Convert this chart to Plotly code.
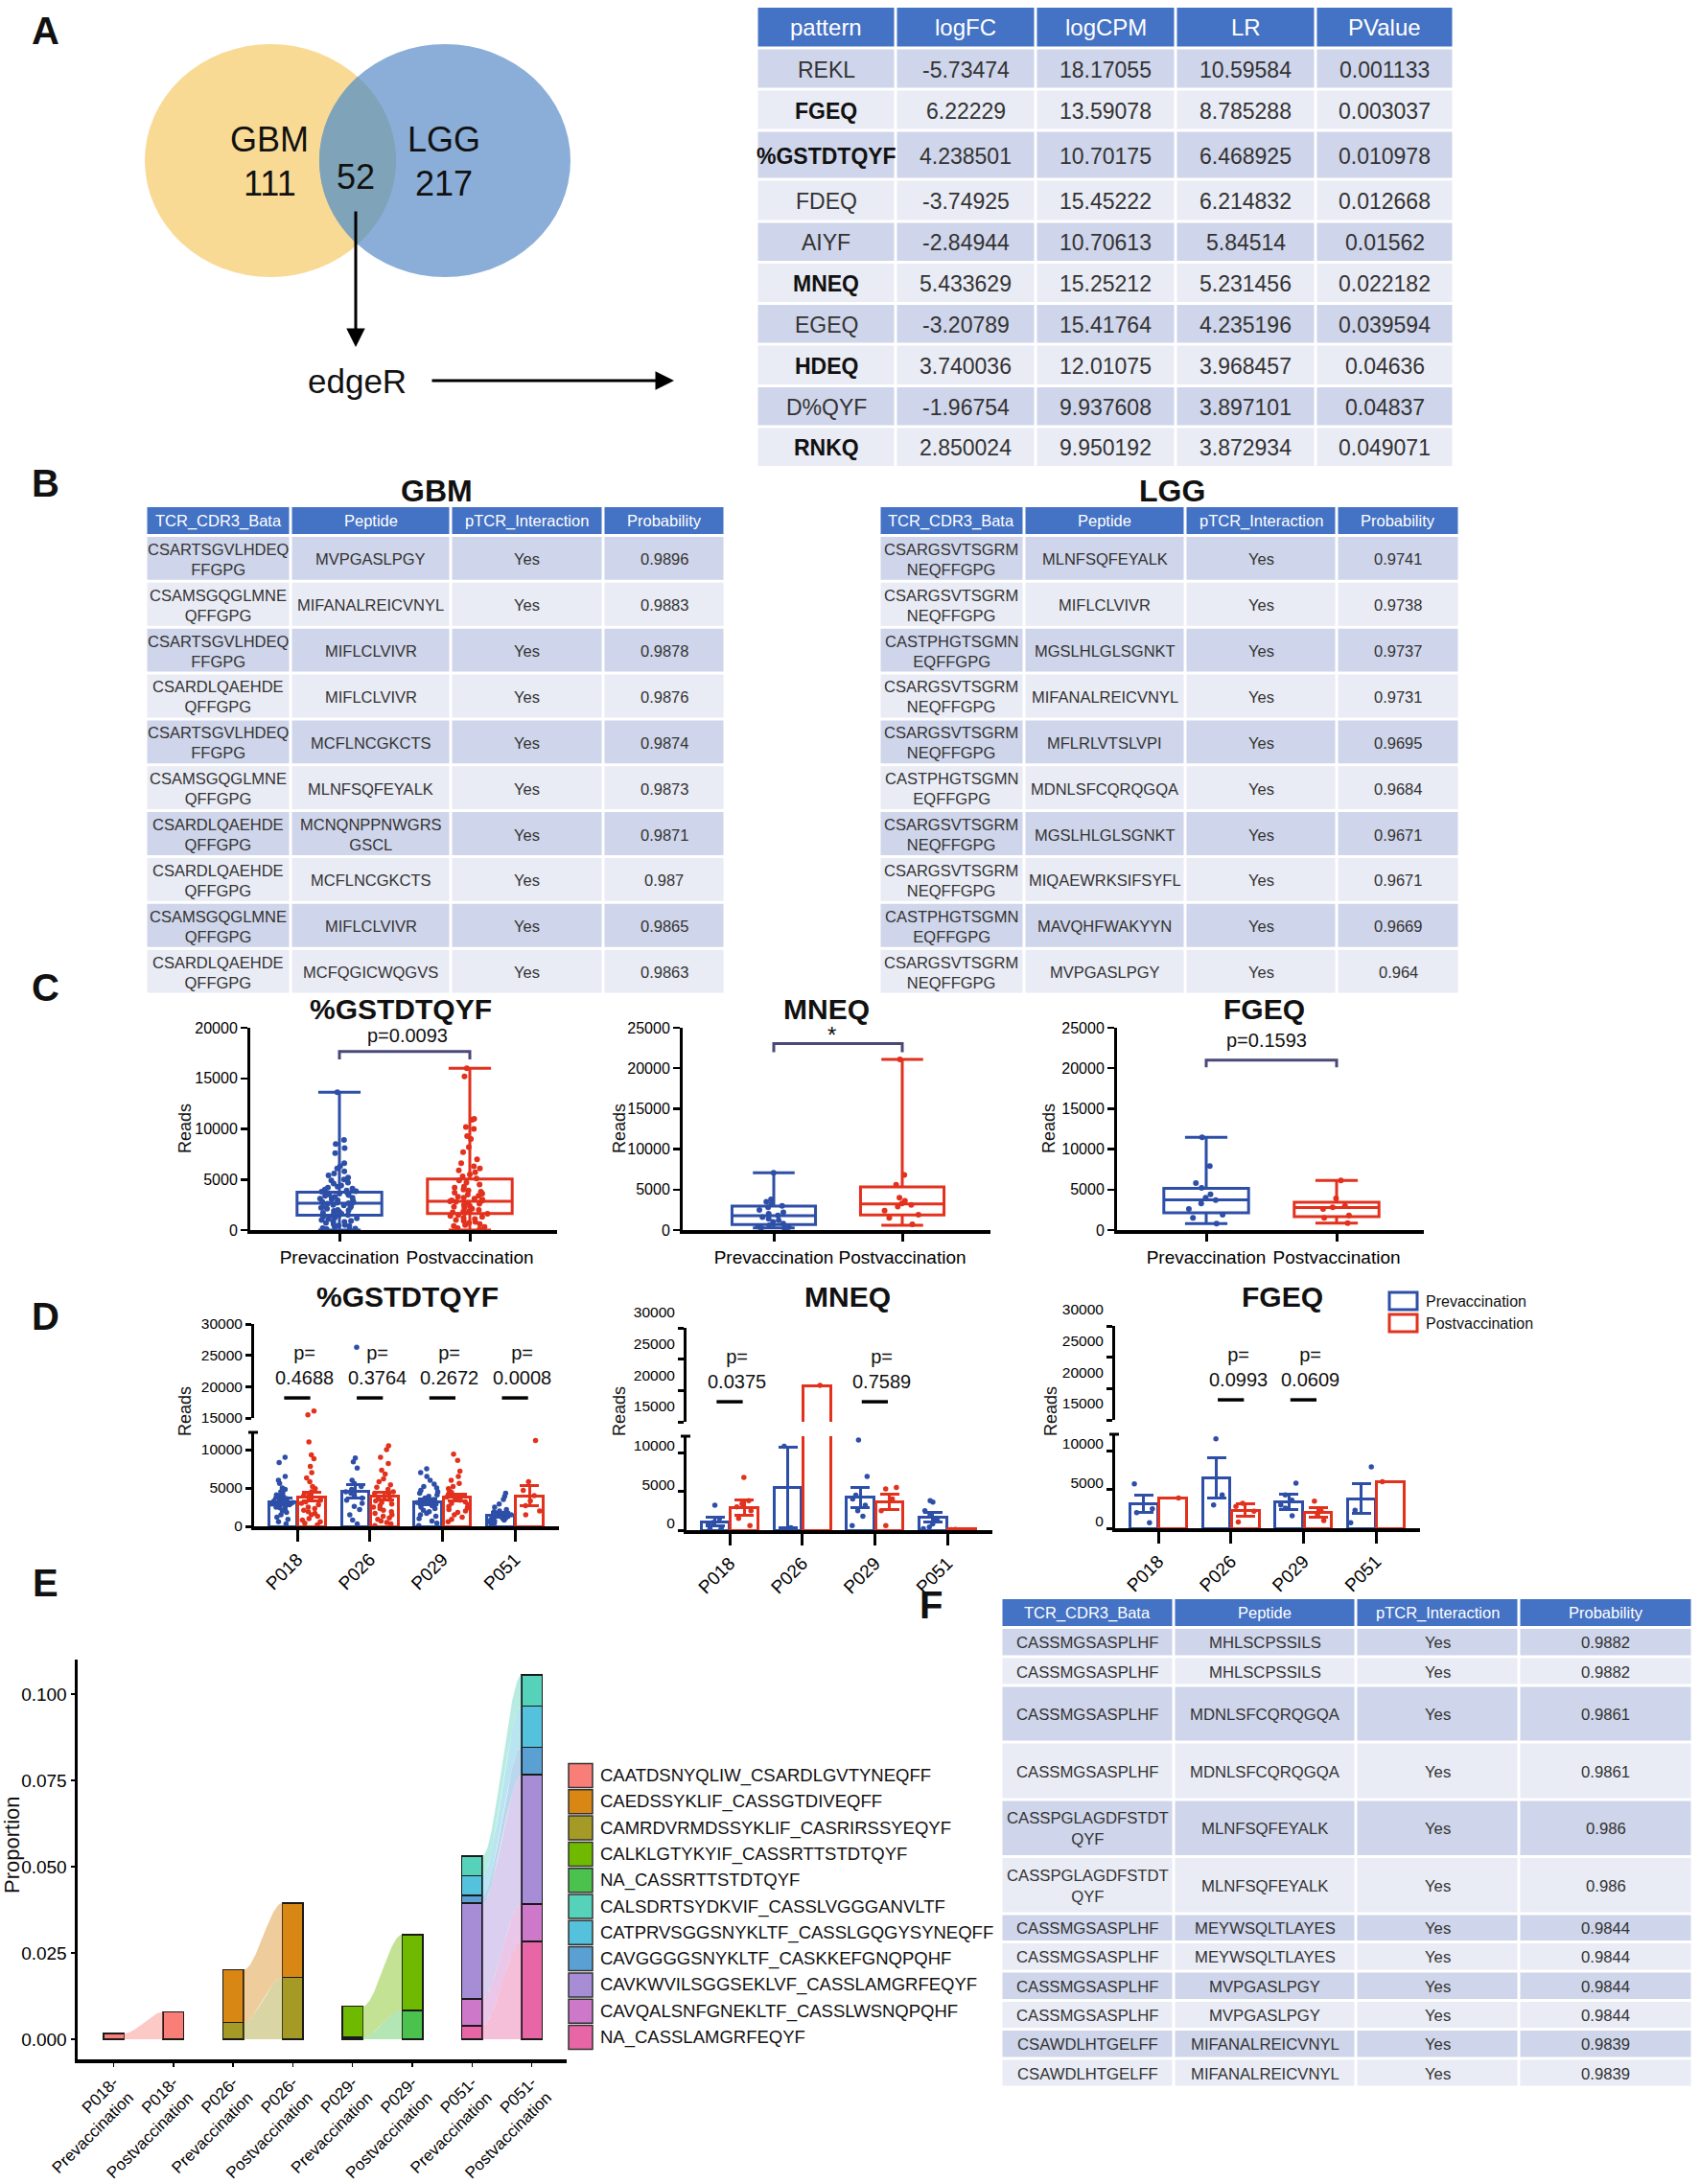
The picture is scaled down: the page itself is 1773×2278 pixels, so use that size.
import numpy as np
import plotly.graph_objects as go

W, H = 1773, 2278
FONT = "Liberation Sans, Arial, Helvetica, sans-serif"
BLUE = "#2E4FA7"
RED = "#E2311D"
INK = "#111111"
CELL = "#333333"
HEAD = "#4472C4"
ROW1 = "#CFD5EA"
ROW2 = "#E9EBF5"
BRK = "#4B4878"

# ======================= DATA =======================
venn_sets = ["GBM", "LGG"]
venn_counts = [111, 52, 217]          # GBM only, shared, LGG only
venn_method = "edgeR"

A_header = ["pattern", "logFC", "logCPM", "LR", "PValue"]
A_pattern = ["REKL", "FGEQ", "%GSTDTQYF", "FDEQ", "AIYF", "MNEQ", "EGEQ", "HDEQ", "D%QYF", "RNKQ"]
A_pattern_bold = [False, True, True, False, False, True, False, True, False, True]
A_logFC = ["-5.73474", "6.22229", "4.238501", "-3.74925", "-2.84944", "5.433629", "-3.20789", "3.740036", "-1.96754", "2.850024"]
A_logCPM = ["18.17055", "13.59078", "10.70175", "15.45222", "10.70613", "15.25212", "15.41764", "12.01075", "9.937608", "9.950192"]
A_LR = ["10.59584", "8.785288", "6.468925", "6.214832", "5.84514", "5.231456", "4.235196", "3.968457", "3.897101", "3.872934"]
A_PValue = ["0.001133", "0.003037", "0.010978", "0.012668", "0.01562", "0.022182", "0.039594", "0.04636", "0.04837", "0.049071"]

B_header = ["TCR_CDR3_Bata", "Peptide", "pTCR_Interaction", "Probability"]
GBM_tcr = ["CSARTSGVLHDEQ<br>FFGPG", "CSAMSGQGLMNE<br>QFFGPG", "CSARTSGVLHDEQ<br>FFGPG", "CSARDLQAEHDE<br>QFFGPG",
           "CSARTSGVLHDEQ<br>FFGPG", "CSAMSGQGLMNE<br>QFFGPG", "CSARDLQAEHDE<br>QFFGPG", "CSARDLQAEHDE<br>QFFGPG",
           "CSAMSGQGLMNE<br>QFFGPG", "CSARDLQAEHDE<br>QFFGPG"]
GBM_peptide = ["MVPGASLPGY", "MIFANALREICVNYL", "MIFLCLVIVR", "MIFLCLVIVR", "MCFLNCGKCTS", "MLNFSQFEYALK",
               "MCNQNPPNWGRS<br>GSCL", "MCFLNCGKCTS", "MIFLCLVIVR", "MCFQGICWQGVS"]
GBM_interaction = ["Yes"] * 10
GBM_prob = ["0.9896", "0.9883", "0.9878", "0.9876", "0.9874", "0.9873", "0.9871", "0.987", "0.9865", "0.9863"]

LGG_tcr = ["CSARGSVTSGRM<br>NEQFFGPG", "CSARGSVTSGRM<br>NEQFFGPG", "CASTPHGTSGMN<br>EQFFGPG", "CSARGSVTSGRM<br>NEQFFGPG",
           "CSARGSVTSGRM<br>NEQFFGPG", "CASTPHGTSGMN<br>EQFFGPG", "CSARGSVTSGRM<br>NEQFFGPG", "CSARGSVTSGRM<br>NEQFFGPG",
           "CASTPHGTSGMN<br>EQFFGPG", "CSARGSVTSGRM<br>NEQFFGPG"]
LGG_peptide = ["MLNFSQFEYALK", "MIFLCLVIVR", "MGSLHLGLSGNKT", "MIFANALREICVNYL", "MFLRLVTSLVPI", "MDNLSFCQRQGQA",
               "MGSLHLGLSGNKT", "MIQAEWRKSIFSYFL", "MAVQHFWAKYYN", "MVPGASLPGY"]
LGG_interaction = ["Yes"] * 10
LGG_prob = ["0.9741", "0.9738", "0.9737", "0.9731", "0.9695", "0.9684", "0.9671", "0.9671", "0.9669", "0.964"]

F_tcr = ["CASSMGSASPLHF", "CASSMGSASPLHF", "CASSMGSASPLHF", "CASSMGSASPLHF", "CASSPGLAGDFSTDT<br>QYF",
         "CASSPGLAGDFSTDT<br>QYF", "CASSMGSASPLHF", "CASSMGSASPLHF", "CASSMGSASPLHF", "CASSMGSASPLHF",
         "CSAWDLHTGELFF", "CSAWDLHTGELFF"]
F_peptide = ["MHLSCPSSILS", "MHLSCPSSILS", "MDNLSFCQRQGQA", "MDNLSFCQRQGQA", "MLNFSQFEYALK", "MLNFSQFEYALK",
             "MEYWSQLTLAYES", "MEYWSQLTLAYES", "MVPGASLPGY", "MVPGASLPGY", "MIFANALREICVNYL", "MIFANALREICVNYL"]
F_interaction = ["Yes"] * 12
F_prob = ["0.9882", "0.9882", "0.9861", "0.9861", "0.986", "0.986", "0.9844", "0.9844", "0.9844", "0.9844", "0.9839", "0.9839"]

groups = ["Prevaccination", "Postvaccination"]
pep_titles = ["%GSTDTQYF", "MNEQ", "FGEQ"]
C_sig_labels = ["p=0.0093", "*", "p=0.1593"]
# box stats: lowerfence, q1, median, q3, upperfence
C_box_pre = [[0, 1480, 2650, 3750, 13630], [280, 670, 1780, 2970, 7080], [790, 2140, 3720, 5140, 11470]]
C_box_post = [[0, 1640, 2840, 5050, 16000], [590, 1860, 3240, 5340, 21100], [870, 1660, 2770, 3440, 6130]]
C_pts_pre = [
    [13630, 8900, 8500, 8100, 7600, 6600, 6300, 6100, 5800, 5600, 5400, 5200, 5000, 4900, 4700, 4600, 4400, 4300,
     4200, 4100, 4000, 3900, 3850, 3800, 3700, 3600, 3500, 3450, 3400, 3300, 3200, 3150, 3100, 3000, 2950, 2900,
     2800, 2750, 2700, 2650, 2600, 2500, 2450, 2400, 2300, 2250, 2200, 2100, 2000, 1950, 1900, 1800, 1700, 1650,
     1600, 1500, 1450, 1400, 1300, 1200, 1150, 1100, 1000, 900, 850, 800, 700, 600, 500, 450, 400, 300, 200, 150, 100, 50],
    [7080, 3800, 3500, 3200, 3000, 2800, 2500, 2200, 2000, 1800, 1600, 1400, 1200, 1000, 800, 600, 450, 350, 280, 200],
    [11470, 7900, 5800, 5200, 4400, 4000, 3700, 3300, 2600, 1900, 1500, 790],
]
C_pts_post = [
    [16000, 15200, 11000, 10900, 10200, 10000, 9300, 9000, 8200, 7700, 7000, 6600, 6300, 6100, 5900, 5700, 5500,
     5300, 5100, 4900, 4700, 4500, 4300, 4200, 4000, 3900, 3800, 3700, 3600, 3500, 3400, 3300, 3200, 3100, 3000,
     2950, 2900, 2850, 2800, 2700, 2600, 2500, 2400, 2300, 2200, 2100, 2000, 1900, 1800, 1750, 1700, 1600, 1500,
     1400, 1300, 1200, 1100, 1000, 900, 800, 700, 600, 500, 400, 300, 200, 100],
    [21100, 6800, 5600, 4000, 3600, 3300, 3100, 2900, 2400, 1900, 1500, 700],
    [6130, 3900, 3000, 2800, 2600, 1800, 1500, 870],
]

patients = ["P018", "P026", "P029", "P051"]
D_mean_pre = [[3250, 4600, 3200, 1500], [1100, 5500, 4200, 1700], [3100, 6500, 3400, 3800]]
D_sem_pre = [[400, 900, 400, 300], [600, 5200, 1300, 600], [1100, 2600, 1000, 1900]]
D_mean_post = [[3875, 3900, 3800, 4000], [2950, 20800, 3600, 150], [3900, 2300, 2000, 6000]]
D_sem_post = [[600, 500, 450, 1300], [1000, 0, 1000, 0], [0, 800, 600, 0]]
D_pts_pre = [
    [[9000, 8300, 6500, 6000, 5600, 5000, 4800, 4500, 4300, 4100, 4000, 3800, 3600, 3500, 3400, 3300, 3200, 3100,
      3000, 2900, 2800, 2700, 2600, 2500, 2400, 2200, 2000, 1800, 1500, 1200, 900, 600, 300],
     [26300, 8900, 8400, 7600, 6000, 5600, 5200, 4800, 4500, 4300, 4000, 3700, 3400, 3000, 2600, 2200, 1500, 800, 300],
     [7500, 7000, 6500, 6000, 5500, 5200, 5000, 4700, 4500, 4300, 4100, 3900, 3700, 3500, 3300, 3100, 2900, 2700,
      2500, 2300, 2100, 1900, 1700, 1500, 1300, 1000, 700, 400, 100],
     [4300, 3900, 3500, 2900, 2500, 2200, 2000, 1900, 1800, 1700, 1600, 1500, 1400, 1300, 1200, 1100, 1000, 900,
      800, 700, 600, 500, 400, 300]],
    [[3200, 1500, 1000, 700, 400, 200, 100], [10800, 300], [11600, 6900, 4500, 4000, 3200, 2500, 1800, 600],
     [3800, 3600, 2500, 2000, 1500, 1200, 800, 400, 200]],
    [[5700, 2500, 2000, 700], [11500, 4300, 3000], [5800, 4300, 3600, 3000, 2600, 1600], [7900, 2300, 700]],
]
D_pts_post = [
    [[16100, 15500, 11000, 9300, 8800, 7800, 7000, 6300, 5800, 5200, 4900, 4500, 4200, 4000, 3700, 3400, 3200,
      3000, 2800, 2500, 2300, 2100, 1900, 1700, 1500, 1300, 1000, 800, 600, 400, 200],
     [10500, 10000, 9000, 8200, 7300, 6800, 6200, 5800, 5400, 5100, 4800, 4500, 4300, 4100, 3900, 3700, 3500, 3300,
      3100, 2900, 2700, 2500, 2300, 2100, 1900, 1700, 1500, 1300, 1100, 900, 700, 500, 300, 100],
     [9400, 8600, 7200, 6500, 6000, 5600, 5200, 4900, 4600, 4400, 4200, 4000, 3800, 3600, 3400, 3200, 3000, 2800,
      2600, 2400, 2200, 2000, 1800, 1500, 1200, 900, 600],
     [11200, 5800, 4700, 4000, 3300, 2700, 2000, 1500]],
    [[6800, 3800, 3400, 3000, 2500, 1500, 600], [20800], [5500, 5300, 4000, 2500, 600], [100, 50]],
    [[3900], [3200, 2800, 2200, 800], [3500, 2200, 1700, 1000], [6000]],
]
D_pvalues = [["0.4688", "0.3764", "0.2672", "0.0008"], ["0.0375", None, "0.7589", None], [None, "0.0993", "0.0609", None]]

E_samples = ["P018-<br>Prevaccination", "P018-<br>Postvaccination", "P026-<br>Prevaccination", "P026-<br>Postvaccination",
             "P029-<br>Prevaccination", "P029-<br>Postvaccination", "P051-<br>Prevaccination", "P051-<br>Postvaccination"]
E_clones = ["CAATDSNYQLIW_CSARDLGVTYNEQFF", "CAEDSSYKLIF_CASSGTDIVEQFF", "CAMRDVRMDSSYKLIF_CASRIRSSYEQYF",
            "CALKLGTYKYIF_CASSRTTSTDTQYF", "NA_CASSRTTSTDTQYF", "CALSDRTSYDKVIF_CASSLVGGGANVLTF",
            "CATPRVSGGSNYKLTF_CASSLGQGYSYNEQFF", "CAVGGGGSNYKLTF_CASKKEFGNQPQHF",
            "CAVKWVILSGGSEKLVF_CASSLAMGRFEQYF", "CAVQALSNFGNEKLTF_CASSLWSNQPQHF", "NA_CASSLAMGRFEQYF"]
N = None
E_props = [
    [0.0017, 0.0079, N, N, N, N, N, N],
    [N, N, 0.0153, 0.0216, N, N, N, N],
    [N, N, 0.0048, 0.0179, N, N, N, N],
    [N, N, N, N, 0.0090, 0.0219, N, N],
    [N, N, N, N, 0.0006, 0.0084, N, N],
    [N, N, N, N, N, N, 0.0058, 0.0090],
    [N, N, N, N, N, N, 0.0056, 0.0119],
    [N, N, N, N, N, N, 0.0022, 0.0080],
    [N, N, N, N, N, N, 0.0279, 0.0374],
    [N, N, N, N, N, N, 0.0077, 0.0109],
    [N, N, N, N, N, N, 0.0039, 0.0283],
]
E_colors = ["#F97E77", "#D88614", "#A69A26", "#6FBA00", "#4CC24E", "#55D2B9", "#55C2DD", "#5BA0D3",
            "#A78CD6", "#CD78C8", "#E866A5"]

# ======================= HELPERS =======================
shapes, annots = [], []
layout_axes = {}


def X(p):
    return p / W


def Y(p):
    return 1 - p / H


def xdom(a, b):
    return [a / W, b / W]


def ydom(top, bot):
    return [1 - bot / H, 1 - top / H]


def lin(v0, p0, v1, p1, pa, pb):
    s = (v1 - v0) / (p1 - p0)
    return [v0 + (pa - p0) * s, v0 + (pb - p0) * s]


def ref(n, c):
    return c if n == 1 else f"{c}{n}"


def key(n, c):
    return f"{c}axis" if n == 1 else f"{c}axis{n}"


def txt(text, x, y, size, bold=False, color=INK, xanchor="center", yanchor="middle", angle=0):
    annots.append(dict(text=f"<b>{text}</b>" if bold else text, x=X(x), y=Y(y), xref="paper", yref="paper",
                       showarrow=False, font=dict(family=FONT, size=size, color=color),
                       xanchor=xanchor, yanchor=yanchor, textangle=angle))


def rect(x0, y0, x1, y1, fill, line=None, lw=0):
    shapes.append(dict(type="rect", xref="paper", yref="paper", x0=X(x0), x1=X(x1), y0=Y(y1), y1=Y(y0),
                       fillcolor=fill, line=dict(color=line or fill, width=lw), layer="below"))


def table(col_edges, row_edges, header, columns, hsize, csize, bold_first=None):
    g = 1.5
    for j, h in enumerate(header):
        x0, x1 = col_edges[j], col_edges[j + 1]
        rect(x0 + g, row_edges[0], x1 - g, row_edges[1] - g, HEAD)
        txt(h, (x0 + x1) / 2, (row_edges[0] + row_edges[1] - g) / 2, hsize, color="white")
    for i in range(len(columns[0])):
        y0, y1 = row_edges[i + 1] + g, row_edges[i + 2] - g
        fill = ROW1 if i % 2 == 0 else ROW2
        for j in range(len(header)):
            x0, x1 = col_edges[j], col_edges[j + 1]
            rect(x0 + g, y0, x1 - g, y1, fill)
            b = bold_first is not None and j == 0 and bold_first[i]
            txt(columns[j][i], (x0 + x1) / 2, (y0 + y1) / 2 + 1, csize, bold=b, color=INK if b else CELL)


AX = dict(showgrid=False, zeroline=False, showline=True, linecolor="black", ticks="outside", tickcolor="black",
          automargin=False)

fig = go.Figure()

# ======================= PANEL A =======================
cy, ry, rx = 167.5, 121.5, 131
cx1, cx2 = 282, 464
shapes.append(dict(type="circle", xref="paper", yref="paper", x0=X(cx1 - rx), x1=X(cx1 + rx), y0=Y(cy + ry),
                   y1=Y(cy - ry), fillcolor="#F9DA94", line=dict(width=0)))
shapes.append(dict(type="circle", xref="paper", yref="paper", x0=X(cx2 - rx), x1=X(cx2 + rx), y0=Y(cy + ry),
                   y1=Y(cy - ry), fillcolor="#8BAED8", line=dict(width=0)))
xi = (cx1 + cx2) / 2
th = np.arccos((xi - cx2) / rx)
t1 = np.linspace(th, 2 * np.pi - th, 60)
ph = np.arccos((xi - cx1) / rx)
t2 = np.linspace(-ph, ph, 60)
px_ = np.concatenate([cx2 + rx * np.cos(t1), cx1 + rx * np.cos(t2)])
py_ = np.concatenate([cy + ry * np.sin(t1), cy + ry * np.sin(t2)])
path = "M " + " L ".join(f"{X(a):.5f},{Y(b):.5f}" for a, b in zip(px_, py_)) + " Z"
shapes.append(dict(type="path", xref="paper", yref="paper", path=path, fillcolor="#7FA3B8", line=dict(width=0)))
txt(venn_sets[0], 281, 146, 36)
txt(str(venn_counts[0]), 281, 191, 36)
txt(str(venn_counts[1]), 371, 185, 36)
txt(venn_sets[1], 463, 146, 36)
txt(str(venn_counts[2]), 463, 191, 36)
annots.append(dict(x=X(371), y=Y(362), xref="paper", yref="paper", ax=0, ay=-143, showarrow=True, text="",
                   arrowhead=2, arrowsize=1.3, arrowwidth=3, arrowcolor="black"))
annots.append(dict(x=X(703), y=Y(397), xref="paper", yref="paper", ax=-254, ay=0, showarrow=True, text="",
                   arrowhead=2, arrowsize=1.3, arrowwidth=3, arrowcolor="black"))
txt(venn_method, 372, 398, 35)

A_cols = [789, 934, 1080, 1226, 1372, 1516]
A_rows = [8, 50, 93, 136, 187, 231, 273.5, 316.5, 359, 402.5, 445, 487.5]
table(A_cols, A_rows, A_header, [A_pattern, A_logFC, A_logCPM, A_LR, A_PValue], 24, 23, bold_first=A_pattern_bold)

# ======================= PANEL B =======================
B_rows = [529] + list(np.linspace(558.5, 1037, 11))
txt("GBM", 456, 512, 32, bold=True)
table([152, 303, 470, 629, 756], B_rows, B_header, [GBM_tcr, GBM_peptide, GBM_interaction, GBM_prob], 16.5, 16.5)
txt("LGG", 1222, 512, 32, bold=True)
table([917, 1068, 1236, 1394, 1522], B_rows, B_header, [LGG_tcr, LGG_peptide, LGG_interaction, LGG_prob], 16.5, 16.5)

# ======================= PANEL F =======================
F_rows = [1668, 1697.5, 1728, 1758, 1817, 1877, 1936.5, 1996, 2025.5, 2056, 2086.5, 2116.5, 2147, 2177]
table([1044, 1224, 1414, 1584, 1765], F_rows, B_header, [F_tcr, F_peptide, F_interaction, F_prob], 16.5, 16.7)

# ======================= PANEL C =======================
C_geo = [(261, 581, 354, 490, 193, 418), (712, 1033, 807, 941, 646, 862), (1165, 1485, 1258, 1394, 1094, 1318)]
C_ymax = [20000, 25000, 25000]
C_brackets = [(16870, 17660), (21980, 23050), (20100, 21000)]
C_labpos = [(0.52, 19240, 20), (0.45, 24100, 24), (0.46, 23500, 20)]
for k in range(3):
    n = k + 1
    L, R, p0, p1, rx_, tx = C_geo[k]
    layout_axes[key(n, "x")] = dict(domain=xdom(L, R), range=lin(0, p0, 1, p1, L, R), anchor=ref(n, "y"),
                                    tickvals=[0, 1], ticktext=groups, tickangle=0, linewidth=4, ticklen=8,
                                    tickwidth=3, tickfont=dict(size=19, color="black"), **AX)
    layout_axes[key(n, "y")] = dict(domain=ydom(1072, 1283), range=[0, C_ymax[k]], anchor=ref(n, "x"),
                                    tickvals=list(range(0, C_ymax[k] + 1, 5000)), tickformat="d", linewidth=3,
                                    ticklen=7, tickwidth=2.5, tickfont=dict(size=16, color="black"), **AX)
    for pos, stats, pts, col in [(0, C_box_pre[k], C_pts_pre[k], BLUE), (1, C_box_post[k], C_pts_post[k], RED)]:
        fig.add_trace(go.Box(x=[pos], lowerfence=[stats[0]], q1=[stats[1]], median=[stats[2]], q3=[stats[3]],
                             upperfence=[stats[4]], width=0.65, whiskerwidth=0.5, boxpoints=False,
                             line=dict(color=col, width=3), fillcolor="rgba(0,0,0,0)",
                             xaxis=ref(n, "x"), yaxis=ref(n, "y"), hoverinfo="skip", showlegend=False))
        fig.add_trace(go.Box(x=[pos] * len(pts), y=pts, width=0.65, boxpoints="all", jitter=0.5, pointpos=0,
                             marker=dict(color=col, size=6), line=dict(width=0), fillcolor="rgba(0,0,0,0)",
                             whiskerwidth=0, xaxis=ref(n, "x"), yaxis=ref(n, "y"), hoverinfo="skip",
                             showlegend=False))
    lo, hi = C_brackets[k]
    shapes.append(dict(type="path", xref=ref(n, "x"), yref=ref(n, "y"),
                       path=f"M 0,{lo} L 0,{hi} L 1,{hi} L 1,{lo}", line=dict(color=BRK, width=3)))
    lx, ly, ls = C_labpos[k]
    annots.append(dict(text=C_sig_labels[k], x=lx, y=ly, xref=ref(n, "x"), yref=ref(n, "y"), showarrow=False,
                       font=dict(family=FONT, size=ls, color=INK), yanchor="middle"))
    txt(pep_titles[k], tx, 1052, 30, bold=True)
    txt("Reads", rx_, 1177, 18, angle=-90)

# ======================= PANEL D =======================
D_geo = [dict(L=265, R=583, lo=(1494, 1592), lotop=12250, up=(1381, 1479), sh=(0, 0), rx=193, tx=425),
         dict(L=716, R=1035, lo=(1498, 1596), lotop=12100, up=(1385, 1483), sh=(-16, -7), rx=646, tx=884),
         dict(L=1163, R=1481, lo=(1496, 1594), lotop=12100, up=(1383, 1481), sh=(-17, -7), rx=1096, tx=1337)]
for k in range(3):
    g = D_geo[k]
    xn, ylo, yhi = 4 + k, 4 + 2 * k, 5 + 2 * k
    c0 = g["L"] + 45
    layout_axes[key(xn, "x")] = dict(domain=xdom(g["L"], g["R"]), range=lin(0, c0, 1, c0 + 75.7, g["L"], g["R"]),
                                     anchor=ref(ylo, "y"), tickvals=[0, 1, 2, 3], ticktext=patients, tickangle=-45,
                                     linewidth=4, ticklen=12, tickwidth=3, tickfont=dict(size=19, color="black"), **AX)
    layout_axes[key(ylo, "y")] = dict(domain=ydom(*g["lo"]), range=[0, g["lotop"]], anchor=ref(xn, "x"),
                                      tickvals=[0, 5000, 10000], tickformat="d", linewidth=3, ticklen=6, tickwidth=3,
                                      ticklabelshift=g["sh"][1], tickfont=dict(size=15.5, color="black"), **AX)
    layout_axes[key(yhi, "y")] = dict(domain=ydom(*g["up"]), range=[15000, 30000], anchor=ref(xn, "x"),
                                      tickvals=[15000, 20000, 25000, 30000], tickformat="d", linewidth=3, ticklen=6,
                                      tickwidth=3, ticklabelshift=g["sh"][0], tickfont=dict(size=15.5, color="black"),
                                      **AX)
    for yn in (ylo, yhi):
        for off, means, sems, pts, col in [(-0.2, D_mean_pre[k], D_sem_pre[k], D_pts_pre[k], BLUE),
                                           (0.2, D_mean_post[k], D_sem_post[k], D_pts_post[k], RED)]:
            xs = [i + off for i in range(4)]
            fig.add_trace(go.Bar(x=xs, y=means, width=0.38, marker=dict(color="white", line=dict(color=col, width=3)),
                                 error_y=dict(type="data", array=sems, color=col, thickness=3, width=10),
                                 xaxis=ref(xn, "x"), yaxis=ref(yn, "y"), hoverinfo="skip", showlegend=False))
            px_pts, py_pts = [], []
            for i in range(4):
                px_pts += [xs[i]] * len(pts[i])
                py_pts += pts[i]
            fig.add_trace(go.Box(x=px_pts, y=py_pts, width=0.36, boxpoints="all", jitter=0.85, pointpos=0,
                                 marker=dict(color=col, size=5.5), line=dict(width=0), fillcolor="rgba(0,0,0,0)",
                                 whiskerwidth=0, xaxis=ref(xn, "x"), yaxis=ref(yn, "y"), hoverinfo="skip",
                                 showlegend=False))
    for i, p in enumerate(D_pvalues[k]):
        if p is None:
            continue
        shapes.append(dict(type="line", xref=ref(xn, "x"), yref=ref(yhi, "y"), x0=i - 0.18, x1=i + 0.18,
                           y0=18200, y1=18200, line=dict(color="black", width=3.5)))
        annots.append(dict(text=f"p=<br>{p}", x=i + 0.1, y=19500, xref=ref(xn, "x"), yref=ref(yhi, "y"),
                           showarrow=False, yanchor="bottom", font=dict(family=FONT, size=20, color=INK)))
    shapes.append(dict(type="line", xref="paper", yref="paper", x0=X(g["L"] - 6), x1=X(g["L"] + 4),
                       y0=Y(g["lo"][0]), y1=Y(g["lo"][0]), line=dict(color="black", width=3)))
    txt(pep_titles[k], g["tx"], 1352, 30, bold=True)
    txt("Reads", g["rx"], 1472, 18, angle=-90)

# legend for D
for j, (lab, col) in enumerate([(groups[0], BLUE), (groups[1], RED)]):
    yc = 1357 + 23 * j
    rect(1449, yc - 9, 1478, yc + 9, "white", line=col, lw=3)
    txt(lab, 1485, yc, 16, xanchor="left")

# ======================= PANEL E =======================
xe, ye = 7, 10
layout_axes[key(xe, "x")] = dict(domain=xdom(81, 591), range=lin(0, 118.5, 1, 180.8, 81, 591), anchor=ref(ye, "y"),
                                 tickvals=list(range(8)), ticktext=E_samples, tickangle=-45, linewidth=3.5,
                                 ticklen=4, tickwidth=1.5, tickfont=dict(size=17, color="black"), **AX)
layout_axes[key(ye, "y")] = dict(domain=ydom(1731, 2148), range=lin(0, 2127, 0.1, 1767, 2148, 1731),
                                 anchor=ref(xe, "x"), tickvals=[0, 0.025, 0.05, 0.075, 0.1], tickformat=".3f",
                                 linewidth=3.5, ticklen=4, tickwidth=1.5, tickfont=dict(size=19, color="black"), **AX)
bw = 0.345
stack_order = list(range(len(E_clones)))[::-1]
seg = {}
for s in range(len(E_samples)):
    cum = 0.0
    for c in stack_order:
        v = E_props[c][s]
        if v is not None:
            seg[(c, s)] = (cum, cum + v)
            cum += v


def hex_rgba(h, a):
    h = h.lstrip("#")
    return f"rgba({int(h[0:2], 16)},{int(h[2:4], 16)},{int(h[4:6], 16)},{a})"


tt = np.linspace(0, 1, 50)
ss = tt * tt * (3 - 2 * tt)
for c in stack_order:
    for s in range(0, len(E_samples), 2):
        if (c, s) in seg and (c, s + 1) in seg:
            b0, t0 = seg[(c, s)]
            b1, t1 = seg[(c, s + 1)]
            xa, xb = s + bw / 2, s + 1 - bw / 2
            xs = xa + (xb - xa) * tt
            top = t0 + (t1 - t0) * ss
            bot = b0 + (b1 - b0) * ss
            fig.add_trace(go.Scatter(x=np.concatenate([xs, xs[::-1]]), y=np.concatenate([top, bot[::-1]]),
                                     fill="toself", fillcolor=hex_rgba(E_colors[c], 0.42), line=dict(width=0),
                                     mode="lines", xaxis=ref(xe, "x"), yaxis=ref(ye, "y"), hoverinfo="skip",
                                     showlegend=False))
for c in stack_order:
    fig.add_trace(go.Bar(x=list(range(len(E_samples))), y=E_props[c], width=bw,
                         marker=dict(color=E_colors[c], line=dict(color="#1a1a1a", width=1.5)),
                         xaxis=ref(xe, "x"), yaxis=ref(ye, "y"), name=E_clones[c], showlegend=False))
for c, name in enumerate(E_clones):
    yc = 1852 + 27.3 * c
    rect(593, yc - 12.5, 618, yc + 12.5, E_colors[c], line="#333333", lw=1.5)
    txt(name, 624, yc, 18.5, xanchor="left")
txt("Proportion", 12, 1924, 22, angle=-90)

# ======================= PANEL LABELS =======================
for lab, x, y in [("A", 47, 32), ("B", 47, 504), ("C", 47, 1030), ("D", 47, 1373), ("E", 47, 1651), ("F", 971, 1674)]:
    txt(lab, x, y, 40, bold=True)

fig.update_layout(template="none", width=W, height=H, margin=dict(l=0, r=0, t=0, b=0, autoexpand=False),
                  paper_bgcolor="white", plot_bgcolor="white",
                  font=dict(family=FONT, color=INK), barmode="stack", boxmode="overlay", showlegend=False,
                  shapes=shapes, annotations=annots, **layout_axes)
fig.write_html("out.html", config={"displayModeBar": False, "staticPlot": True},
               post_script="document.body.style.margin='0px';document.body.style.overflow='hidden';")
